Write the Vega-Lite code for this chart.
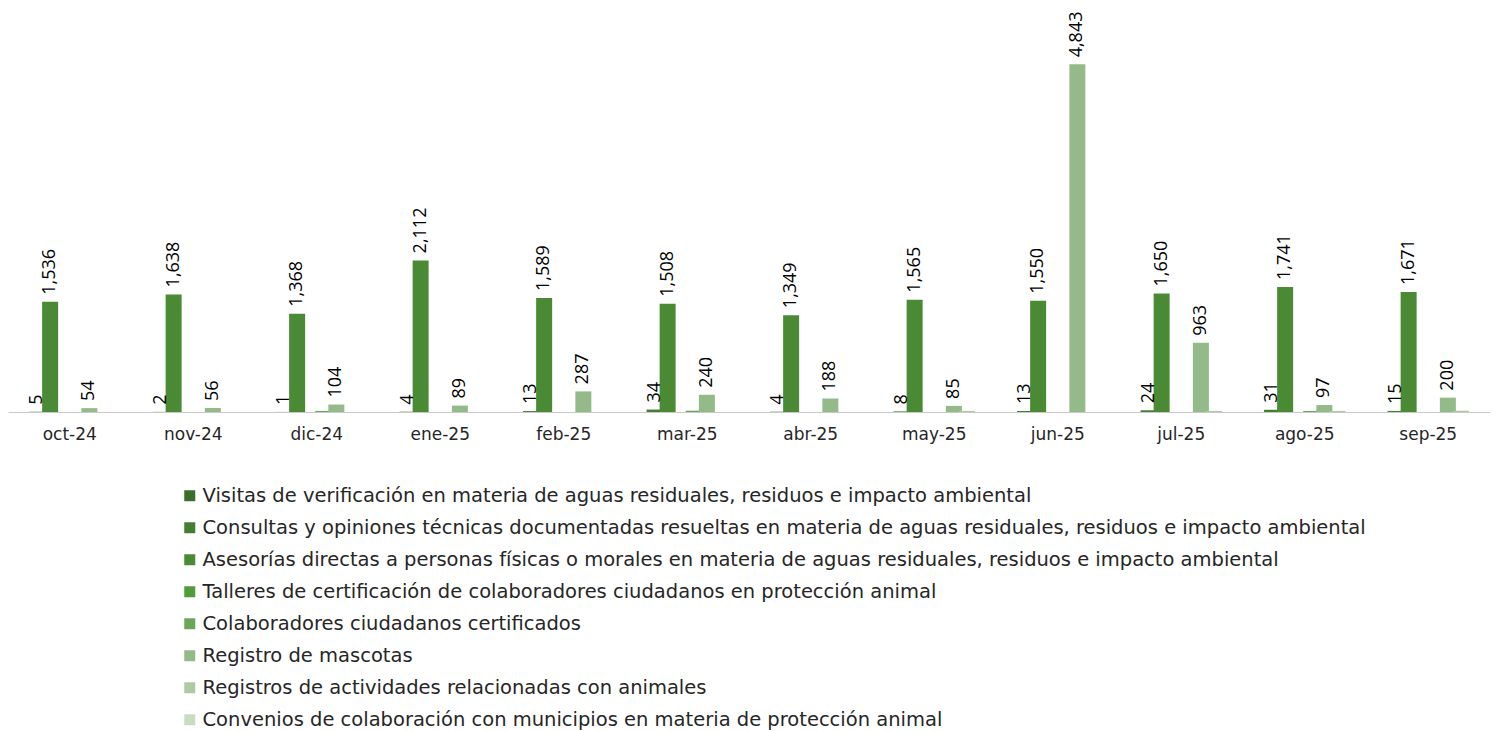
{
  "$schema": "https://vega.github.io/schema/vega-lite/v6.json",
  "autosize": {"type": "none"},
  "padding": {"left": 8, "top": 10, "right": 5, "bottom": 319},
  "width": 1482,
  "height": 402,
  "background": "white",
  "config": {"view": {"stroke": null}, "font": "Open Sans"},
  "data": {"values": [
    {"mes": "oct-24", "Visitas de verificación en materia de aguas residuales, residuos e impacto ambiental": 0, "Consultas y opiniones técnicas documentadas resueltas en materia de aguas residuales, residuos e impacto ambiental": 5, "Asesorías directas a personas físicas o morales en materia de aguas residuales, residuos e impacto ambiental": 1536, "Talleres de certificación de colaboradores ciudadanos en protección animal": 0, "Colaboradores ciudadanos certificados": 0, "Registro de mascotas": 54, "Registros de actividades relacionadas con animales": 0, "Convenios de colaboración con municipios en materia de protección animal": 0},
    {"mes": "nov-24", "Visitas de verificación en materia de aguas residuales, residuos e impacto ambiental": 0, "Consultas y opiniones técnicas documentadas resueltas en materia de aguas residuales, residuos e impacto ambiental": 2, "Asesorías directas a personas físicas o morales en materia de aguas residuales, residuos e impacto ambiental": 1638, "Talleres de certificación de colaboradores ciudadanos en protección animal": 0, "Colaboradores ciudadanos certificados": 0, "Registro de mascotas": 56, "Registros de actividades relacionadas con animales": 0, "Convenios de colaboración con municipios en materia de protección animal": 0},
    {"mes": "dic-24", "Visitas de verificación en materia de aguas residuales, residuos e impacto ambiental": 0, "Consultas y opiniones técnicas documentadas resueltas en materia de aguas residuales, residuos e impacto ambiental": 1, "Asesorías directas a personas físicas o morales en materia de aguas residuales, residuos e impacto ambiental": 1368, "Talleres de certificación de colaboradores ciudadanos en protección animal": 0, "Colaboradores ciudadanos certificados": 15, "Registro de mascotas": 104, "Registros de actividades relacionadas con animales": 0, "Convenios de colaboración con municipios en materia de protección animal": 0},
    {"mes": "ene-25", "Visitas de verificación en materia de aguas residuales, residuos e impacto ambiental": 0, "Consultas y opiniones técnicas documentadas resueltas en materia de aguas residuales, residuos e impacto ambiental": 4, "Asesorías directas a personas físicas o morales en materia de aguas residuales, residuos e impacto ambiental": 2112, "Talleres de certificación de colaboradores ciudadanos en protección animal": 0, "Colaboradores ciudadanos certificados": 0, "Registro de mascotas": 89, "Registros de actividades relacionadas con animales": 0, "Convenios de colaboración con municipios en materia de protección animal": 0},
    {"mes": "feb-25", "Visitas de verificación en materia de aguas residuales, residuos e impacto ambiental": 0, "Consultas y opiniones técnicas documentadas resueltas en materia de aguas residuales, residuos e impacto ambiental": 13, "Asesorías directas a personas físicas o morales en materia de aguas residuales, residuos e impacto ambiental": 1589, "Talleres de certificación de colaboradores ciudadanos en protección animal": 0, "Colaboradores ciudadanos certificados": 0, "Registro de mascotas": 287, "Registros de actividades relacionadas con animales": 0, "Convenios de colaboración con municipios en materia de protección animal": 0},
    {"mes": "mar-25", "Visitas de verificación en materia de aguas residuales, residuos e impacto ambiental": 0, "Consultas y opiniones técnicas documentadas resueltas en materia de aguas residuales, residuos e impacto ambiental": 34, "Asesorías directas a personas físicas o morales en materia de aguas residuales, residuos e impacto ambiental": 1508, "Talleres de certificación de colaboradores ciudadanos en protección animal": 0, "Colaboradores ciudadanos certificados": 18, "Registro de mascotas": 240, "Registros de actividades relacionadas con animales": 0, "Convenios de colaboración con municipios en materia de protección animal": 0},
    {"mes": "abr-25", "Visitas de verificación en materia de aguas residuales, residuos e impacto ambiental": 0, "Consultas y opiniones técnicas documentadas resueltas en materia de aguas residuales, residuos e impacto ambiental": 4, "Asesorías directas a personas físicas o morales en materia de aguas residuales, residuos e impacto ambiental": 1349, "Talleres de certificación de colaboradores ciudadanos en protección animal": 0, "Colaboradores ciudadanos certificados": 0, "Registro de mascotas": 188, "Registros de actividades relacionadas con animales": 0, "Convenios de colaboración con municipios en materia de protección animal": 0},
    {"mes": "may-25", "Visitas de verificación en materia de aguas residuales, residuos e impacto ambiental": 0, "Consultas y opiniones técnicas documentadas resueltas en materia de aguas residuales, residuos e impacto ambiental": 8, "Asesorías directas a personas físicas o morales en materia de aguas residuales, residuos e impacto ambiental": 1565, "Talleres de certificación de colaboradores ciudadanos en protección animal": 0, "Colaboradores ciudadanos certificados": 0, "Registro de mascotas": 85, "Registros de actividades relacionadas con animales": 15, "Convenios de colaboración con municipios en materia de protección animal": 0},
    {"mes": "jun-25", "Visitas de verificación en materia de aguas residuales, residuos e impacto ambiental": 0, "Consultas y opiniones técnicas documentadas resueltas en materia de aguas residuales, residuos e impacto ambiental": 13, "Asesorías directas a personas físicas o morales en materia de aguas residuales, residuos e impacto ambiental": 1550, "Talleres de certificación de colaboradores ciudadanos en protección animal": 0, "Colaboradores ciudadanos certificados": 0, "Registro de mascotas": 4843, "Registros de actividades relacionadas con animales": 0, "Convenios de colaboración con municipios en materia de protección animal": 0},
    {"mes": "jul-25", "Visitas de verificación en materia de aguas residuales, residuos e impacto ambiental": 0, "Consultas y opiniones técnicas documentadas resueltas en materia de aguas residuales, residuos e impacto ambiental": 24, "Asesorías directas a personas físicas o morales en materia de aguas residuales, residuos e impacto ambiental": 1650, "Talleres de certificación de colaboradores ciudadanos en protección animal": 0, "Colaboradores ciudadanos certificados": 0, "Registro de mascotas": 963, "Registros de actividades relacionadas con animales": 15, "Convenios de colaboración con municipios en materia de protección animal": 0},
    {"mes": "ago-25", "Visitas de verificación en materia de aguas residuales, residuos e impacto ambiental": 0, "Consultas y opiniones técnicas documentadas resueltas en materia de aguas residuales, residuos e impacto ambiental": 31, "Asesorías directas a personas físicas o morales en materia de aguas residuales, residuos e impacto ambiental": 1741, "Talleres de certificación de colaboradores ciudadanos en protección animal": 0, "Colaboradores ciudadanos certificados": 15, "Registro de mascotas": 97, "Registros de actividades relacionadas con animales": 15, "Convenios de colaboración con municipios en materia de protección animal": 0},
    {"mes": "sep-25", "Visitas de verificación en materia de aguas residuales, residuos e impacto ambiental": 0, "Consultas y opiniones técnicas documentadas resueltas en materia de aguas residuales, residuos e impacto ambiental": 15, "Asesorías directas a personas físicas o morales en materia de aguas residuales, residuos e impacto ambiental": 1671, "Talleres de certificación de colaboradores ciudadanos en protección animal": 0, "Colaboradores ciudadanos certificados": 0, "Registro de mascotas": 200, "Registros de actividades relacionadas con animales": 18, "Convenios de colaboración con municipios en materia de protección animal": 0}
  ]},
  "transform": [
    {"fold": [
      "Visitas de verificación en materia de aguas residuales, residuos e impacto ambiental",
      "Consultas y opiniones técnicas documentadas resueltas en materia de aguas residuales, residuos e impacto ambiental",
      "Asesorías directas a personas físicas o morales en materia de aguas residuales, residuos e impacto ambiental",
      "Talleres de certificación de colaboradores ciudadanos en protección animal",
      "Colaboradores ciudadanos certificados",
      "Registro de mascotas",
      "Registros de actividades relacionadas con animales",
      "Convenios de colaboración con municipios en materia de protección animal"
    ], "as": ["serie", "valor"]}
  ],
  "encoding": {
    "x": {"field": "mes", "type": "nominal", "sort": null,
      "scale": {"paddingInner": 0.153, "paddingOuter": 0.0765},
      "axis": {"title": null, "labelAngle": 0, "ticks": false, "labelPadding": 14, "labelFontSize": 17, "labelColor": "#262626", "domainColor": "#c8c8c8", "domainWidth": 1.2, "labelFont": "DejaVu Sans"}},
    "xOffset": {"field": "serie", "type": "nominal", "sort": null,
      "scale": {"paddingInner": 0, "paddingOuter": 0, "domain": [
      "Visitas de verificación en materia de aguas residuales, residuos e impacto ambiental",
      "Consultas y opiniones técnicas documentadas resueltas en materia de aguas residuales, residuos e impacto ambiental",
      "Asesorías directas a personas físicas o morales en materia de aguas residuales, residuos e impacto ambiental",
      "Talleres de certificación de colaboradores ciudadanos en protección animal",
      "Colaboradores ciudadanos certificados",
      "Registro de mascotas",
      "Registros de actividades relacionadas con animales",
      "Convenios de colaboración con municipios en materia de protección animal"
    ]}},
    "y": {"field": "valor", "type": "quantitative", "scale": {"domain": [0, 5600], "nice": false}, "axis": null}
  },
  "layer": [
    {
      "mark": {"type": "bar", "width": 16},
      "encoding": {
        "color": {"field": "serie", "type": "nominal", "sort": null,
          "scale": {"domain": [
            "Visitas de verificación en materia de aguas residuales, residuos e impacto ambiental",
            "Consultas y opiniones técnicas documentadas resueltas en materia de aguas residuales, residuos e impacto ambiental",
            "Asesorías directas a personas físicas o morales en materia de aguas residuales, residuos e impacto ambiental",
            "Talleres de certificación de colaboradores ciudadanos en protección animal",
            "Colaboradores ciudadanos certificados",
            "Registro de mascotas",
            "Registros de actividades relacionadas con animales",
            "Convenios de colaboración con municipios en materia de protección animal"
          ], "range": ["#3b6e2a", "#437d32", "#4a8a35", "#529b3b", "#6aa65a", "#93ba88", "#adcaa5", "#c8dcc2"]},
          "legend": {"title": null, "orient": "none", "legendX": 172, "legendY": 476, "direction": "vertical",
            "symbolType": "square", "symbolSize": 121, "symbolStrokeWidth": 0, "symbolOpacity": 1,
            "labelFontSize": 19.5, "labelColor": "#262626", "labelLimit": 1400, "rowPadding": 11.0, "labelOffset": 3, "padding": 0, "labelFont": "DejaVu Sans"}
        }
      }
    },
    {
      "transform": [{"filter": "datum.serie == 'Registro de mascotas' || indexof(datum.serie, 'Consultas') == 0 || indexof(datum.serie, 'Asesor') == 0"}],
      "mark": {"type": "text", "angle": 270, "align": "left", "baseline": "middle", "dx": 7, "fontSize": 18, "color": "#000000", "font": "Open Sans"},
      "encoding": {"text": {"field": "valor", "type": "quantitative", "format": ","}}
    }
  ]
}
